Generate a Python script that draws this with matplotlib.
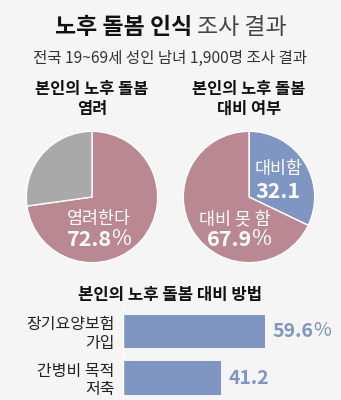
import matplotlib
matplotlib.use("Agg")
import matplotlib.pyplot as plt

plt.rcParams['font.family'] = ['Noto Sans CJK KR', 'DejaVu Sans']

# data
worry_labels = ["염려한다", "염려 안 한다"]
worry_values = [72.8, 27.2]
prep_labels = ["대비함", "대비 못 함"]
prep_values = [32.1, 67.9]
method_labels = ["장기요양보험\n가입", "간병비 목적\n저축"]
method_values = [59.6, 41.2]
method_texts = ["59.6", "41.2"]

PINK = "#b98893"
GRAY = "#a9a9a9"
BLUE = "#7f96c2"
BG = "#f5f5f5"

W, H = 341, 400
fig = plt.figure(figsize=(W / 100, H / 100), dpi=100)
fig.patch.set_facecolor(BG)


def px(x, y):
    return x / W, 1 - y / H


def add_pct(ax, t, size, color):
    ax.annotate("%", xy=(1, 0), xycoords=t, xytext=(-0.5, 0), textcoords="offset points",
                ha="left", va="bottom", fontsize=size, color=color, fontweight="light")


# titles
t = fig.text(*px(192, 27), "노후 돌봄 인식", ha="right", va="center",
             fontsize=16.5, fontweight="heavy", color="#111111")
fig.text(*px(197, 27), "조사 결과", ha="left", va="center",
         fontsize=16.5, fontweight="light", color="#444444")
fig.text(*px(170, 58), "전국 19~69세 성인 남녀 1,900명 조사 결과", ha="center", va="center",
         fontsize=11.2, color="#333333")

fig.text(*px(92, 99), "본인의 노후 돌봄\n염려", ha="center", va="center",
         fontsize=11.8, fontweight="bold", color="#111111", linespacing=1.15)
fig.text(*px(249, 99), "본인의 노후 돌봄\n대비 여부", ha="center", va="center",
         fontsize=11.8, fontweight="bold", color="#111111", linespacing=1.15)
fig.text(*px(170, 295), "본인의 노후 돌봄 대비 방법", ha="center", va="center",
         fontsize=12, fontweight="bold", color="#111111")

# pies
R = 67


def pie_axes(cx, cy):
    ax = fig.add_axes([(cx - R) / W, 1 - (cy + R) / H, 2 * R / W, 2 * R / H])
    ax.set_facecolor("none")
    return ax


ax1 = pie_axes(92, 197)
ax1.pie(worry_values, colors=[PINK, GRAY], startangle=90, counterclock=False,
        radius=1, wedgeprops=dict(edgecolor="white", linewidth=1))
ax1.set_xlim(-1.02, 1.02)
ax1.set_ylim(-1.02, 1.02)
ax1.text(0.10, -0.34, worry_labels[0], ha="center", va="center", fontsize=12.5, color="white")
t1 = ax1.text(0.30, -0.65, "72.8", ha="right", va="center", fontsize=15.5,
              fontweight="bold", color="white")
add_pct(ax1, t1, 15.5, "white")

ax2 = pie_axes(249, 197)
ax2.pie(prep_values, colors=[BLUE, PINK], startangle=90, counterclock=False,
        radius=1, wedgeprops=dict(edgecolor="white", linewidth=1))
ax2.set_xlim(-1.02, 1.02)
ax2.set_ylim(-1.02, 1.02)
ax2.text(0.45, 0.42, prep_labels[0], ha="center", va="center", fontsize=12.5, color="white")
ax2.text(0.44, 0.09, "32.1", ha="center", va="center", fontsize=15.5,
         fontweight="bold", color="white")
ax2.text(-0.22, -0.34, prep_labels[1], ha="center", va="center", fontsize=12.5, color="white")
t2 = ax2.text(0.045, -0.65, "67.9", ha="right", va="center", fontsize=15.5,
              fontweight="bold", color="white")
add_pct(ax2, t2, 15.5, "white")

# bars
ax3 = fig.add_axes([123 / W, 0, 1 - 123 / W, 0.23])
ax3.set_facecolor("none")
ypos = list(range(len(method_values)))
ax3.barh(ypos, method_values, height=0.71, color=BLUE)
ax3.set_xlim(0, (W - 123) / 2.383)
ax3.set_ylim(1.473, -0.505)
ax3.set_xticks([])
ax3.set_yticks(ypos)
ax3.set_yticklabels(method_labels, fontsize=11.5, color="#222222", linespacing=1.1)
ax3.tick_params(axis="y", length=0, pad=6)
for side in ["top", "right", "bottom"]:
    ax3.spines[side].set_visible(False)
ax3.spines["left"].set_color("white")
ax3.spines["left"].set_linewidth(1)
for i, (v, s) in enumerate(zip(method_values, method_texts)):
    tv = ax3.annotate(s, xy=(v, i), xytext=(5.5, 0), textcoords="offset points",
                      ha="left", va="center", fontsize=14, fontweight="bold", color=BLUE)
    if i == 0:
        add_pct(ax3, tv, 14, BLUE)

fig.savefig("out.png", dpi=100, facecolor=BG)
